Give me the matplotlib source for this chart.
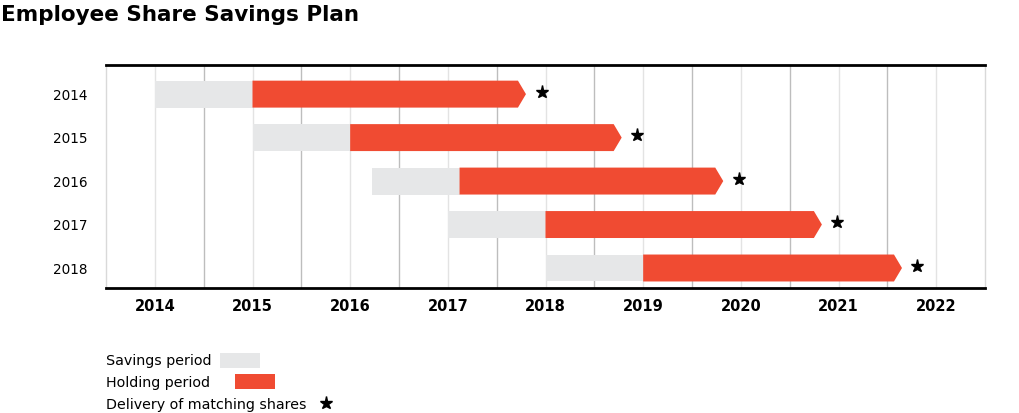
import matplotlib
matplotlib.use("Agg")
import matplotlib.pyplot as plt
from matplotlib.patches import Polygon, Rectangle
from matplotlib.lines import Line2D

plt.rcParams['font.family'] = ['DejaVu Sans']

# ---- data ----
plan_years = ['2014', '2015', '2016', '2017', '2018']
savings_start = [2014.0, 2015.0, 2016.22, 2017.0, 2018.0]
holding_start = [2015.0, 2016.0, 2017.12, 2018.0, 2019.0]
holding_end = [2017.80, 2018.78, 2019.82, 2020.83, 2021.65]
delivery = [2017.96, 2018.94, 2019.98, 2020.98, 2021.80]
x_ticks = [2014, 2015, 2016, 2017, 2018, 2019, 2020, 2021, 2022]

GREY = '#e6e7e8'
RED = '#f04b32'

fig = plt.figure(figsize=(10.19, 4.13), dpi=100)
ax = fig.add_axes([106/1019, 1-288/413, (985-106)/1019, (288-65)/413])

h = 0.62
tip = 0.082
for i, yr in enumerate(plan_years):
    ax.add_patch(Rectangle((savings_start[i], i - h/2), holding_start[i] - savings_start[i], h,
                           facecolor=GREY, edgecolor='none', zorder=2))
    xs, xe = holding_start[i], holding_end[i]
    ax.add_patch(Polygon([(xs, i - h/2), (xe - tip, i - h/2), (xe, i), (xe - tip, i + h/2), (xs, i + h/2)],
                         closed=True, facecolor=RED, edgecolor='none', zorder=3))
ax.plot(delivery, [i - 0.05 for i in range(len(plan_years))], linestyle='none', marker='*',
        color='black', markersize=9.5, zorder=4)

ax.set_xlim(2013.5, 2022.5)
ax.set_ylim(4.46, -0.67)

# gridlines: light at years, darker at half years
for x in x_ticks:
    ax.axvline(x, color='#e3e3e3', lw=1, zorder=1)
for x in x_ticks[:-1]:
    ax.axvline(x + 0.5, color='#bdbdbd', lw=1, zorder=1)

ax.set_xticks(x_ticks)
ax.set_xticklabels([str(x) for x in x_ticks], fontsize=10.5, fontweight='bold')
ax.set_yticks(range(len(plan_years)))
ax.set_yticklabels(plan_years, fontsize=9.8)
ax.tick_params(axis='x', length=0, pad=8)
ax.tick_params(axis='y', length=0, pad=13)

for s in ['top', 'bottom']:
    ax.spines[s].set_color('black')
    ax.spines[s].set_linewidth(2)
for s in ['left', 'right']:
    ax.spines[s].set_color('#d9d9d9')
    ax.spines[s].set_linewidth(1)

fig.text(1/1019, 1-15/413, 'Employee Share Savings Plan', fontsize=15.5, fontweight='bold',
         va='center', ha='left')

# legend
fig.text(106/1019, 1-361/413, 'Savings period', fontsize=10.3, va='center', ha='left')
fig.patches.append(Rectangle((220/1019, 1-368/413), 40/1019, 15/413, facecolor=GREY,
                             edgecolor='none', transform=fig.transFigure, figure=fig))
fig.text(106/1019, 1-383/413, 'Holding period', fontsize=10.3, va='center', ha='left')
fig.patches.append(Rectangle((235/1019, 1-389/413), 40/1019, 15/413, facecolor=RED,
                             edgecolor='none', transform=fig.transFigure, figure=fig))
fig.text(106/1019, 1-405/413, 'Delivery of matching shares', fontsize=10.3, va='center', ha='left')
fig.lines.append(Line2D([325.5/1019], [1-403/413], marker='*', color='black', markersize=9.5,
                        linestyle='none', transform=fig.transFigure, figure=fig))

fig.savefig('out.png', dpi=100)
